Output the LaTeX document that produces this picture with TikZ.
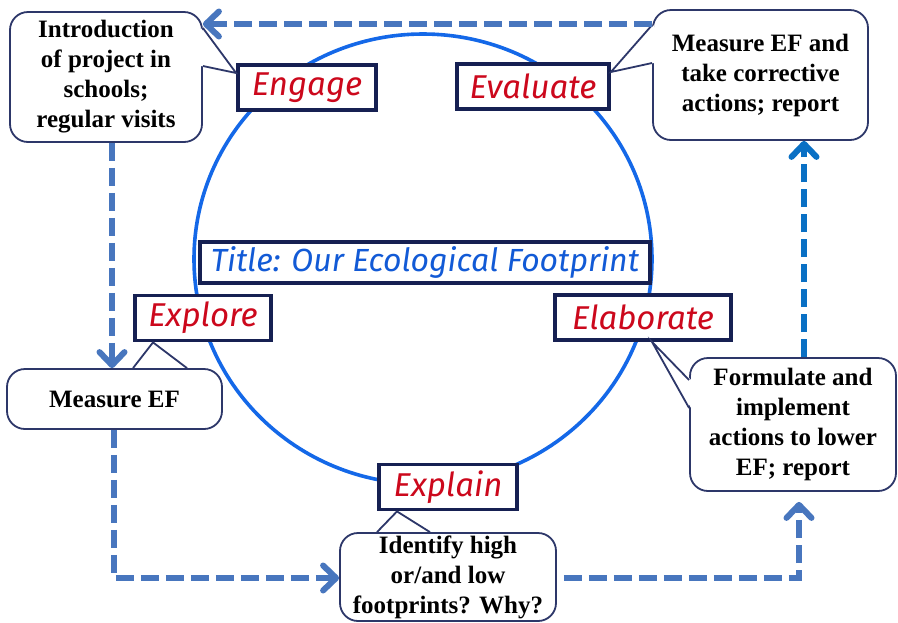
\documentclass[tikz,border=0pt]{standalone}
\usepackage{fontspec}
\setmainfont{Liberation Serif}
\newfontfamily\phasefamily{Fira Sans}
\usetikzlibrary{arrows.meta}

\definecolor{notenavy}{RGB}{45,55,105}
\definecolor{phasenavy}{RGB}{22,32,82}
\definecolor{phasered}{RGB}{204,8,28}
\definecolor{titleblue}{RGB}{18,90,214}
\definecolor{ringblue}{RGB}{20,104,232}
\definecolor{flowblue}{RGB}{72,118,190}
\definecolor{flowbright}{RGB}{10,112,196}

\begin{document}
\begin{tikzpicture}[x=1pt,y=-1pt,
  note/.style={draw=notenavy, line width=1.8pt, rounded corners=18pt, fill=white,
    align=center, inner sep=0pt,
    font=\fontsize{25}{30}\selectfont\bfseries},
  phase/.style={draw=phasenavy, line width=3.8pt, fill=white, inner sep=0pt,
    minimum height=45pt, text=phasered,
    font=\phasefamily\itshape\fontsize{33}{36}\selectfont},
  titlebox/.style={phase, minimum height=41pt, text=titleblue,
    font=\phasefamily\itshape\fontsize{32}{34}\selectfont},
  ring/.style={draw=ringblue, line width=3.6pt},
  flowtip/.style={-{Straight Barb[length=13pt,width=25pt,line width=6pt,round]}},
  flow/.style={draw=flowblue, line width=6pt, dash pattern=on 18pt off 7pt, flowtip},
  flowup/.style={flow, draw=flowbright},
  ptrfill/.style={fill=white},
  ptrline/.style={draw=notenavy, line width=1.8pt, line join=miter},
]
\useasboundingbox[fill=white] (0,0) rectangle (898,622);

% the cycle ring
\draw[ring] (423,259) ellipse [x radius=229, y radius=225];

% callout boxes
\node[note, minimum width=192pt, minimum height=130pt] (intro) at (106,77)
  {Introduction\\of project in\\schools;\\regular visits};
\node[note, minimum width=215pt, minimum height=130pt] (evalnote) at (760.5,75)
  {Measure EF and\\take corrective\\actions; report};
\node[note, minimum width=215pt, minimum height=60pt] (measure) at (114.5,399)
  {Measure EF};
\node[note, minimum width=206pt, minimum height=133pt] (formulate) at (793,424.5)
  {Formulate and\\implement\\actions to lower\\EF; report};
\node[note, minimum width=216pt, minimum height=88pt] (identify) at (448,577)
  {Identify high\\or/and low\\footprints? Why?};

% phase labels on the ring
\node[phase, minimum width=138pt] (engage) at (307,87.5) {Engage};
\node[phase, minimum width=152pt] (evaluate) at (533,86.5) {Evaluate};
\node[phase, minimum width=136pt] (explore) at (203,318) {Explore};
\node[phase, minimum width=176pt] (elaborate) at (643,317.5) {Elaborate};
\node[phase, minimum width=138pt] (explain) at (448,487) {Explain};
\node[titlebox, minimum width=450pt] (title) at (425,262.5) {Title: Our Ecological Footprint};

% callout pointers
\coordinate (p1a) at (intro.east |- 0,28);
\coordinate (p1b) at (intro.east |- 0,66);
\coordinate (p1t) at (engage.north west |- 0,73);
\fill[ptrfill] ([xshift=-2pt]p1a) -- (p1t) -- ([xshift=-2pt]p1b) -- cycle;
\draw[ptrline] (p1a) -- (p1t) -- (p1b);

\coordinate (p2a) at (evalnote.west |- 0,25);
\coordinate (p2b) at (evalnote.west |- 0,63);
\coordinate (p2t) at (evaluate.east |- 0,72);
\fill[ptrfill] ([xshift=2pt]p2a) -- (p2t) -- ([xshift=2pt]p2b) -- cycle;
\draw[ptrline] (p2a) -- (p2t) -- (p2b);

\coordinate (p3a) at (measure.north -| 133,0);
\coordinate (p3b) at (measure.north -| 187,0);
\coordinate (p3t) at (explore.south -| 153,0);
\fill[ptrfill] ([yshift=2pt]p3a) -- (p3t) -- ([yshift=2pt]p3b) -- cycle;
\draw[ptrline] (p3a) -- (p3t) -- (p3b);

\coordinate (p4a) at (formulate.west |- 0,380);
\coordinate (p4b) at (formulate.west |- 0,408);
\coordinate (p4t) at (elaborate.south -| 652,0);
\fill[ptrfill] ([xshift=2pt]p4a) -- (p4t) -- ([xshift=2pt]p4b) -- cycle;
\draw[ptrline] (p4a) -- (p4t) -- (p4b);

\coordinate (p5a) at (identify.north -| 377,0);
\coordinate (p5b) at (identify.north -| 430,0);
\coordinate (p5t) at (explain.south -| 397,0);
\fill[ptrfill] ([yshift=2pt]p5a) -- (p5t) -- ([yshift=2pt]p5b) -- cycle;
\draw[ptrline] (p5a) -- (p5t) -- (p5b);

% flow between the activities
\draw[flow] (evalnote.west |- 0,24) -- (intro.east |- 0,24);
\draw[flow] (intro.south -| 112,0) -- (measure.north -| 112,0);
\draw[flow] (measure.south -| 114,0) |- (identify.west |- 0,578);
\draw[flow, shorten <=7pt, shorten >=10pt] (identify.east |- 0,578) -| (formulate.south -| 799,0);
\draw[flowup] (formulate.north -| 804,0) -- (evalnote.south -| 804,0);
\end{tikzpicture}
\end{document}
